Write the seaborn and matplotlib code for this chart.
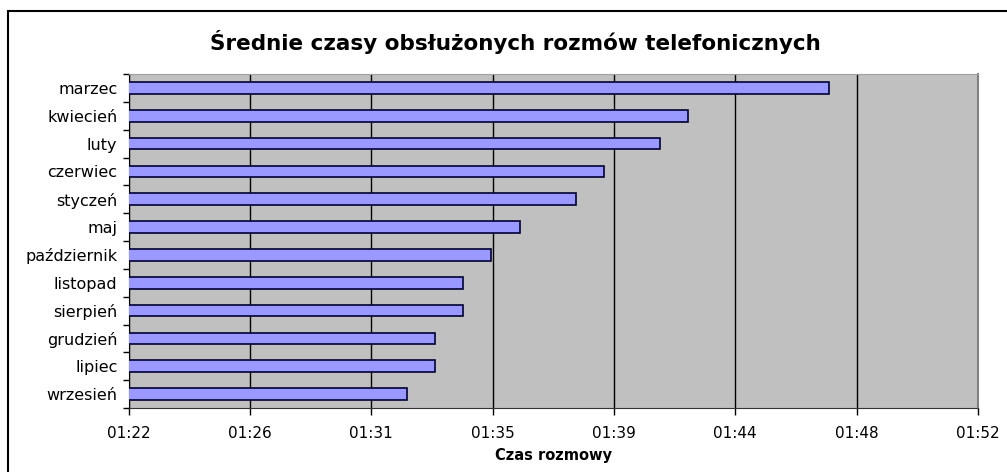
import pandas as pd
import seaborn as sns
import matplotlib.pyplot as plt
from matplotlib.patches import Rectangle
import numpy as np

# average call times in seconds (mm:ss)
months = ['marzec', 'kwiecień', 'luty', 'czerwiec', 'styczeń', 'maj',
          'październik', 'listopad', 'sierpień', 'grudzień', 'lipiec', 'wrzesień']
seconds = [107, 102, 101, 99, 98, 96, 95, 94, 94, 93, 93, 92]
x_ticks = [82.08, 86.40, 90.72, 95.04, 99.36, 103.68, 108.00, 112.32]
x_labels = ['01:22', '01:26', '01:31', '01:35', '01:39', '01:44', '01:48', '01:52']

df = pd.DataFrame({'miesiac': months, 'czas': seconds})

sns.set_style('white')
plt.rcParams['font.family'] = ['DejaVu Sans']
plt.rcParams['text.color'] = 'black'
plt.rcParams['xtick.color'] = 'black'
plt.rcParams['ytick.color'] = 'black'
plt.rcParams['axes.labelcolor'] = 'black'

fig = plt.figure(figsize=(10.07, 4.72), dpi=100)
ax = fig.add_axes([128.5 / 1007, 1 - 408 / 472, (978 - 128.5) / 1007, (408 - 74) / 472])
ax.set_facecolor('#c0c0c0')

sns.barplot(data=df, x='czas', y='miesiac', order=months, color='#9999ff',
            width=0.42, edgecolor='#000033', linewidth=1.2, saturation=1, ax=ax, zorder=3)

ax.set_xlim(x_ticks[0], x_ticks[-1])
ax.set_ylim(len(months) - 0.5, -0.5)
ax.set_xticks(x_ticks)
ax.set_xticklabels(x_labels, fontsize=11)
ax.grid(axis='x', color='black', linewidth=1, zorder=1)
ax.set_axisbelow(True)

# category labels without ticks, ticks between categories
ax.set_yticks(range(len(months)))
ax.set_yticklabels(months, fontsize=11.5)
ax.set_yticks(np.arange(-0.5, len(months)), minor=True)
ax.tick_params(axis='y', which='major', length=0, pad=8)
ax.tick_params(axis='y', which='minor', length=4, width=1, color='black', direction='out', left=True)
ax.tick_params(axis='x', which='major', length=5, width=1, color='black', direction='out', bottom=True, pad=8)

ax.spines['left'].set_color('black')
ax.spines['bottom'].set_color('#333333')
ax.spines['top'].set_color('#a0a0a0')
ax.spines['right'].set_color('#808080')
ax.spines['right'].set_linewidth(1.5)

ax.set_ylabel('')
ax.set_xlabel('Czas rozmowy', fontsize=10.5, fontweight='bold', labelpad=5)

fig.text(515 / 1007, 1 - 42 / 472, 'Średnie czasy obsłużonych rozmów telefonicznych',
         ha='center', va='center', fontsize=15.5, fontweight='bold')

# chart frame
fig.add_artist(Rectangle((8 / 1007, -0.1), 1.2, 1.1 - 11 / 472, transform=fig.transFigure,
                         fill=False, edgecolor='black', linewidth=1.5))

fig.savefig('out.png', dpi=100)
